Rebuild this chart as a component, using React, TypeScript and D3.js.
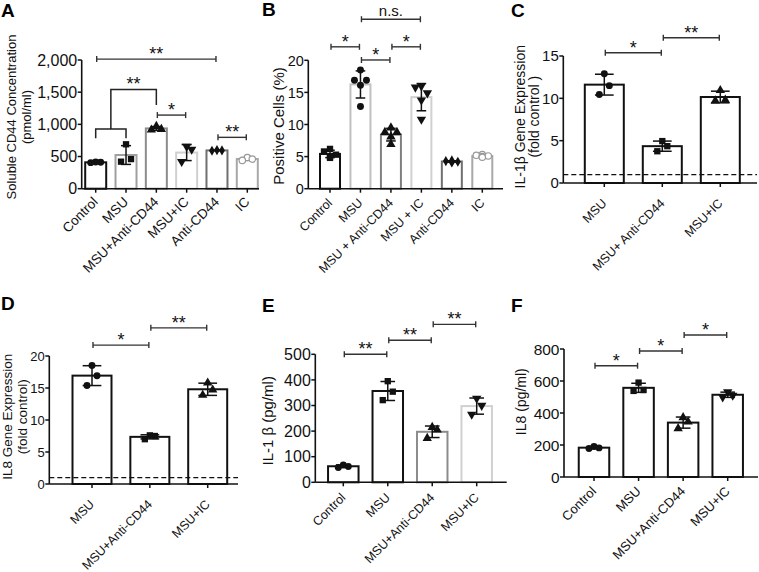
import React from 'react';
import * as d3 from 'd3';

const FONT = '"Liberation Sans", Arial, Helvetica, sans-serif';

// ---------- DATA ----------
// Panel A: soluble CD44 (pmol/ml)
const catsA = ['Control', 'MSU', 'MSU+Anti-CD44', 'MSU+IC', 'Anti-CD44', 'IC'];
const ptsA = [[415, 410, 405], [690, 460, 420], [970, 925, 915], [655, 610, 420], [600, 595, 590], [485, 460, 440]];
const ticksA = [0, 500, 1000, 1500, 2000];
// Panel B: positive cells (%)
const catsB = ['Control', 'MSU', 'MSU + Anti-CD44', 'MSU + IC', 'Anti-CD44', 'IC'];
const ptsB = [
  [6.2, 5.8, 5.3, 5.0, 4.8],
  [18.5, 16.9, 16.9, 16.1, 12.8],
  [9.5, 8.8, 8.8, 8.1, 6.9],
  [16.0, 15.8, 14.9, 13.8, 10.8],
  [4.4, 4.3, 4.2, 4.2, 4.1],
  [5.3, 5.2, 5.1, 5.0, 4.9],
];
const ticksB = [0, 5, 10, 15, 20];
// Panel C: IL-1β gene expression (fold control)
const catsC = ['MSU', 'MSU+ Anti-CD44', 'MSU+IC'];
const ptsC = [[12.9, 11.5, 10.45], [4.95, 4.35, 3.75], [10.95, 9.8, 9.72]];
const ticksC = [0, 5, 10, 15];
// Panel D: IL8 gene expression (fold control)
const catsD = ['MSU', 'MSU+Anti-CD44', 'MSU+IC'];
const ptsD = [[18.5, 16.9, 15.4], [7.6, 7.5, 7.0], [15.8, 14.7, 13.9]];
const ticksD = [0, 5, 10, 15, 20];
// Panel E: IL-1β (pg/ml)
const catsE = ['Control', 'MSU', 'MSU+Anti-CD44', 'MSU+IC'];
const ptsE = [[68, 62, 58], [395, 354, 321], [215, 205, 172], [328, 300, 265]];
const ticksE = [0, 100, 200, 300, 400, 500];
// Panel F: IL8 (pg/ml)
const catsF = ['Control', 'MSU', 'MSU+Anti-CD44', 'MSU+IC'];
const ptsF = [[190, 182, 178], [590, 544, 538], [372, 345, 303], [532, 510, 500]];
const ticksF = [0, 200, 400, 600, 800];

const foldControl = 1;

// significance annotations: [from, to, label, level]
const sigA: [number, number, string, number][] = [[0, 4, '**', 2014], [2, 3, '*', 1144], [4, 5, '**', 798]];
const sigAGroup = { from: [0, 1], to: 2, label: '**', low: 927, lowEnd: 783, high: 1543, dropTo: 1300 };
const sigB: [number, number, string, number][] = [[0, 1, '*', 22.1], [1, 2, '*', 20.05], [2, 3, '*', 22.1], [1, 3, 'n.s.', 26.4]];
const sigC: [number, number, string, number][] = [[0, 1, '*', 15.39], [1, 2, '**', 17.16]];
const sigD: [number, number, string, number][] = [[0, 1, '*', 21.7], [1, 2, '**', 24.4]];
const sigE: [number, number, string, number][] = [[0, 1, '**', 500], [1, 2, '**', 554.7], [2, 3, '**', 617]];
const sigF: [number, number, string, number][] = [[0, 1, '*', 695.6], [1, 2, '*', 787.5], [2, 3, '*', 887.5]];

// ---------- LAYOUT ----------
const K = '#111';
const panels: any[] = [
  {
    letter: 'A', lx: 1, ly: 17, x0: 81.7, xEnd: 259, yB: 188.7, yT: 60, max: 2000, ticks: ticksA, fmt: d3.format(','),
    cats: catsA, pts: ptsA, r: [95.7, 247.3], barW: 21, tickFs: 16, catFs: 13.5,
    colors: [K, '#a0a0a0', '#8c8c8c', '#d0d0d0', '#707070', '#a8a8a8'],
    markers: ['circle', 'square', 'triangle', 'tridown', 'diamond', 'open'],
    sigs: sigA, group: sigAGroup,
    titles: ['Soluble CD44 Concentration', '(pmol/ml)'], tx: [12, 27], ty: 117, ts: 13, labelDy: 14,
  },
  {
    letter: 'B', lx: 262, ly: 16, x0: 308.3, xEnd: 503, yB: 188.7, yT: 60.3, max: 20, ticks: ticksB, fmt: String,
    cats: catsB, pts: ptsB, r: [330, 482.3], barW: 20, tickFs: 14.5, catFs: 12.5,
    colors: [K, '#c0c0c0', '#808080', '#d0d0d0', '#707070', '#a8a8a8'],
    markers: ['square', 'circle', 'triangle', 'tridown', 'diamond', 'open'],
    sigs: sigB,
    titles: ['Positive Cells (%)'], tx: [279.5], ty: 126, ts: 15, labelDy: 15,
  },
  {
    letter: 'C', lx: 511, ly: 17, x0: 563.3, xEnd: 757, yB: 183, yT: 56, max: 15, ticks: ticksC, fmt: String,
    cats: catsC, pts: ptsC, r: [604.3, 720.3], barW: 39, tickFs: 15, catFs: 12.5,
    colors: [K, K, K], markers: ['circle', 'square', 'triangle'],
    sigs: sigC, dashed: foldControl,
    titles: ['IL-1β Gene Expression', '(fold control )'], tx: [521.5, 535], ty: 116.7, ts: 14, labelDy: 21,
  },
  {
    letter: 'D', lx: 1, ly: 310, x0: 49.3, xEnd: 238, yB: 484, yT: 356, max: 20, ticks: ticksD, fmt: String,
    cats: catsD, pts: ptsD, r: [92, 207.7], barW: 39, tickFs: 13, catFs: 12.5,
    colors: [K, K, K], markers: ['circle', 'square', 'triangle'],
    sigs: sigD, dashed: foldControl,
    titles: ['IL8 Gene Expression', '(fold control)'], tx: [8.5, 23.5], ty: 416.7, ts: 13.5, labelDy: 21,
  },
  {
    letter: 'E', lx: 262, ly: 312, x0: 315.3, xEnd: 506.7, yB: 482.3, yT: 354.3, max: 500, ticks: ticksE, fmt: String,
    cats: catsE, pts: ptsE, r: [343.3, 476.7], barW: 30.5, tickFs: 16, catFs: 12.5,
    colors: [K, K, '#8c8c8c', '#d0d0d0'], markers: ['circle', 'square', 'triangle', 'tridown'],
    sigs: sigE,
    titles: ['IL-1 β (pg/ml)'], tx: [268.7], ty: 420.8, ts: 15, labelDy: 16,
  },
  {
    letter: 'F', lx: 511, ly: 312, x0: 564, xEnd: 758, yB: 477, yT: 349, max: 800, ticks: ticksF, fmt: String,
    cats: catsF, pts: ptsF, r: [594, 727.7], barW: 30.5, tickFs: 15.5, catFs: 13,
    colors: [K, K, K, K], markers: ['circle', 'square', 'triangle', 'tridown'],
    sigs: sigF,
    titles: ['IL8 (pg/ml)'], tx: [522], ty: 401.7, ts: 14, labelDy: 15,
  },
];

function offsets(n: number): number[] {
  if (n === 5) return [0, -6, 6, 0, 0];
  return [0, 5, -5];
}

function Marker({ type, x, y }: { type: string; x: number; y: number }) {
  if (type === 'open') {
    return <circle cx={x} cy={y} r={3.2} fill="#fff" stroke="#999" strokeWidth={1.2} />;
  }
  let sym: any = d3.symbolCircle;
  let size = 38;
  let rot = 0;
  if (type === 'square') { sym = d3.symbolSquare; size = 40; }
  if (type === 'triangle') { sym = d3.symbolTriangle; size = 38; }
  if (type === 'tridown') { sym = d3.symbolTriangle; size = 38; rot = 180; }
  if (type === 'diamond') { sym = d3.symbolDiamond; size = 30; }
  const path = d3.symbol(sym, size)() as string;
  return <path d={path} transform={`translate(${x},${y}) rotate(${rot})`} fill={K} />;
}

function Panel({ p }: { p: any }) {
  const x = d3.scalePoint<string>().domain(p.cats).range(p.r);
  const y = d3.scaleLinear().domain([0, p.max]).range([p.yB, p.yT]);
  const capW = p.barW * 0.48;
  const stats = p.pts.map((v: number[]) => ({ mean: d3.mean(v) as number, sd: d3.deviation(v) as number }));
  const starFs = 18;
  const sigLabel = (label: string, cx: number, ly: number) =>
    label === 'n.s.' ? (
      <text x={cx} y={ly - 3.3} textAnchor="middle" fontSize={15} fill={K}>{label}</text>
    ) : (
      <text x={cx} y={ly + 1} textAnchor="middle" fontSize={starFs} fill={K}>{label}</text>
    );

  return (
    <g fontFamily={FONT}>
      <text x={p.lx} y={p.ly} fontSize={19} fontWeight="bold" fill="#000">{p.letter}</text>

      {/* y title */}
      {p.titles.map((t: string, i: number) => (
        <text key={i} transform={`translate(${p.tx[i]},${p.ty}) rotate(-90)`} dy="0.27em" textAnchor="middle" fontSize={p.ts} fill={K}>{t}</text>
      ))}

      {/* bars */}
      {p.cats.map((c: string, i: number) => (
        <rect key={c} x={(x(c) as number) - p.barW / 2} y={y(stats[i].mean)} width={p.barW}
          height={p.yB - y(stats[i].mean)} fill="#fff" stroke={p.colors[i]} strokeWidth={2} />
      ))}

      {/* dashed reference */}
      {p.dashed !== undefined && (
        <line x1={p.x0} x2={p.xEnd} y1={y(p.dashed)} y2={y(p.dashed)} stroke={K} strokeWidth={1.3} strokeDasharray="5,3" />
      )}

      {/* error bars */}
      {p.cats.map((c: string, i: number) => {
        const cx = x(c) as number;
        const s = stats[i];
        const col = p.markers[i] === 'open' ? '#888' : K;
        return (
          <g key={c} stroke={col} strokeWidth={1.5}>
            <line x1={cx} x2={cx} y1={y(s.mean - s.sd)} y2={y(s.mean + s.sd)} />
            <line x1={cx - capW / 2} x2={cx + capW / 2} y1={y(s.mean + s.sd)} y2={y(s.mean + s.sd)} />
            <line x1={cx - capW / 2} x2={cx + capW / 2} y1={y(s.mean - s.sd)} y2={y(s.mean - s.sd)} />
          </g>
        );
      })}

      {/* points */}
      {p.cats.map((c: string, i: number) => {
        const off = offsets(p.pts[i].length);
        return p.pts[i].map((v: number, j: number) => (
          <Marker key={c + j} type={p.markers[i]} x={(x(c) as number) + off[j]} y={y(v)} />
        ));
      })}

      {/* axes */}
      <line x1={p.x0} x2={p.x0} y1={p.yB} y2={p.yT} stroke={K} strokeWidth={1.6} />
      <line x1={p.x0} x2={p.xEnd} y1={p.yB} y2={p.yB} stroke={K} strokeWidth={1.6} />
      {p.ticks.map((t: number) => (
        <g key={t}>
          <line x1={p.x0 - 4} x2={p.x0} y1={y(t)} y2={y(t)} stroke={K} strokeWidth={1.5} />
          <text x={p.x0 - 4.5} y={y(t)} dy="0.36em" textAnchor="end" fontSize={p.tickFs} fill={K}>{p.fmt(t)}</text>
        </g>
      ))}
      {p.cats.map((c: string) => (
        <g key={c}>
          <line x1={x(c)} x2={x(c)} y1={p.yB} y2={p.yB + 4} stroke={K} strokeWidth={1.5} />
          <text transform={`translate(${(x(c) as number) + 3},${p.yB + p.labelDy}) rotate(-45)`} textAnchor="end" fontSize={p.catFs} fill={K}>{c}</text>
        </g>
      ))}

      {/* significance brackets */}
      {p.sigs.map(([a, b, label, level]: [number, number, string, number], i: number) => {
        const x1 = (x(p.cats[a]) as number) + 1;
        const x2 = (x(p.cats[b]) as number) - 1;
        const ly = y(level);
        return (
          <g key={i}>
            <g stroke="#333" strokeWidth={1.4}>
              <line x1={x1} x2={x2} y1={ly} y2={ly} />
              <line x1={x1} x2={x1} y1={ly - 3} y2={ly + 3} />
              <line x1={x2} x2={x2} y1={ly - 3} y2={ly + 3} />
            </g>
            {sigLabel(label, (x1 + x2) / 2, ly)}
          </g>
        );
      })}
      {p.group && (() => {
        const g = p.group;
        const xa = x(p.cats[g.from[0]]) as number;
        const xb = x(p.cats[g.from[1]]) as number;
        const xm = (xa + xb) / 2;
        const xt = x(p.cats[g.to]) as number;
        return (
          <g>
            <path d={`M${xa},${y(g.lowEnd)}V${y(g.low)}H${xb}V${y(g.lowEnd)}M${xm},${y(g.low)}V${y(g.high)}H${xt}V${y(g.dropTo)}`}
              fill="none" stroke="#222" strokeWidth={1.5} />
            {sigLabel(g.label, (xm + xt) / 2, y(g.high))}
          </g>
        );
      })()}
    </g>
  );
}

export default function App() {
  return (
    <svg width={759} height={572} style={{ position: 'absolute', left: 0, top: 0, background: '#fff' }}>
      <rect width={759} height={572} fill="#fff" />
      {panels.map((p) => <Panel key={p.letter} p={p} />)}
    </svg>
  );
}
